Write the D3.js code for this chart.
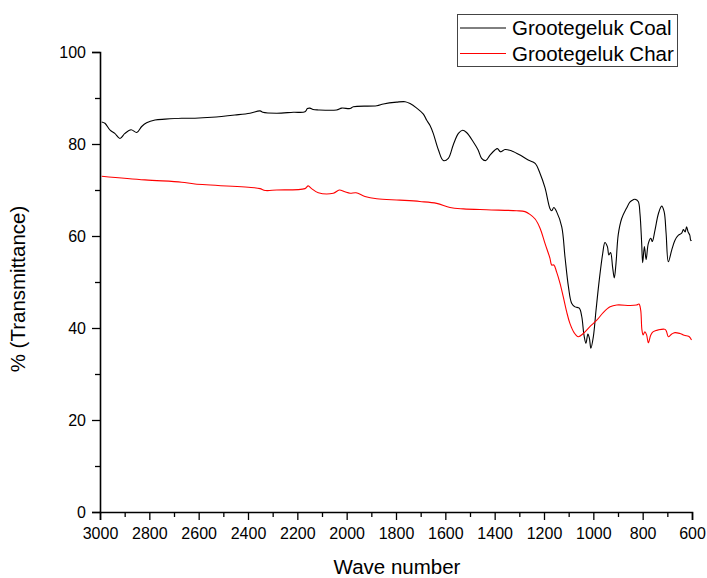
<!DOCTYPE html>
<html>
<head>
<meta charset="utf-8">
<script src="https://cdn.jsdelivr.net/npm/d3@7"></script>
<style>
  html, body { margin: 0; padding: 0; background: #fff; }
  svg { display: block; }
  text { font-family: "Liberation Sans", Arial, sans-serif; fill: #000; }
</style>
</head>
<body>
<svg id="chart" width="707" height="578"></svg>
<script>
// ---- Data ----
const coalWave = [2993, 2980, 2959, 2940, 2919, 2899, 2874, 2851, 2831, 2811, 2777, 2736, 2669, 2615, 2547, 2453, 2392, 2351, 2340, 2284, 2216, 2169, 2159, 2149, 2136, 2115, 2041, 2020, 1986, 1973, 1878, 1851, 1797, 1763, 1743, 1716, 1689, 1676, 1662, 1649, 1628, 1608, 1588, 1568, 1547, 1530, 1514, 1487, 1467, 1453, 1436, 1419, 1399, 1389, 1376, 1358, 1331, 1297, 1264, 1236, 1216, 1196, 1176, 1169, 1160, 1149, 1128, 1115, 1101, 1088, 1074, 1057, 1047, 1038, 1030, 1022, 1016, 1010, 1000, 989, 976, 962, 953, 943, 937, 930, 922, 915, 908, 899, 885, 865, 851, 838, 831, 818, 811, 804, 800, 793, 786, 777, 767, 761, 750, 736, 723, 713, 705, 696, 682, 669, 655, 642, 635, 628, 622, 616, 609, 605, 602];
const coalValue = [84.8, 84.5, 83.0, 82.3, 81.2, 82.3, 83.1, 82.5, 83.8, 84.6, 85.2, 85.4, 85.6, 85.6, 85.8, 86.3, 86.7, 87.2, 86.9, 86.7, 86.9, 87.0, 87.7, 87.8, 87.5, 87.4, 87.4, 87.8, 87.7, 88.1, 88.3, 88.7, 89.1, 89.2, 88.8, 87.8, 86.5, 85.2, 84.0, 82.3, 78.7, 76.4, 76.9, 79.8, 82.3, 83.0, 82.5, 80.5, 78.7, 76.9, 76.4, 77.6, 78.7, 79.0, 78.3, 78.8, 78.5, 77.6, 76.5, 75.8, 73.6, 70.5, 66.0, 65.5, 66.2, 65.3, 62.0, 55.5, 49.0, 45.4, 44.6, 44.3, 42.5, 38.5, 36.7, 38.7, 37.8, 35.6, 38.1, 43.9, 50.4, 56.2, 58.6, 57.7, 55.9, 56.4, 53.3, 50.9, 54.1, 60.3, 63.8, 66.1, 67.4, 67.9, 68.0, 67.5, 64.9, 58.4, 54.2, 57.7, 54.9, 58.4, 59.5, 58.8, 61.3, 64.9, 66.5, 65.3, 60.6, 54.4, 57.0, 59.1, 60.2, 60.6, 61.4, 60.9, 62.0, 60.9, 60.2, 59.0, 59.1];

const charWave = [2993, 2818, 2669, 2615, 2374, 2351, 2330, 2284, 2169, 2156, 2142, 2115, 2054, 2030, 2007, 1986, 1962, 1926, 1878, 1784, 1703, 1635, 1581, 1527, 1433, 1311, 1277, 1257, 1236, 1216, 1196, 1176, 1169, 1160, 1149, 1135, 1122, 1108, 1095, 1078, 1061, 1041, 1014, 986, 959, 932, 905, 851, 825, 815, 808, 803, 798, 791, 784, 777, 767, 757, 736, 709, 703, 696, 682, 669, 649, 635, 622, 611, 602];
const charValue = [73.0, 72.2, 71.7, 71.3, 70.5, 70.3, 69.9, 70.0, 70.3, 70.9, 70.3, 69.4, 69.3, 70.0, 69.6, 69.3, 69.4, 68.6, 68.1, 67.8, 67.5, 67.1, 66.2, 65.9, 65.7, 65.5, 65.3, 64.7, 63.7, 61.7, 58.4, 55.2, 53.7, 53.7, 52.2, 49.7, 46.8, 43.5, 41.0, 39.0, 38.1, 38.8, 40.3, 41.7, 43.4, 44.6, 45.0, 44.9, 45.0, 45.2, 43.9, 39.6, 38.5, 39.2, 38.5, 36.8, 38.5, 39.2, 39.6, 39.7, 39.2, 38.1, 38.7, 39.0, 38.8, 38.5, 38.3, 38.1, 37.4];

const seriesNames = ["Grootegeluk Coal", "Grootegeluk Char"];
const seriesColors = ["#000000", "#ff0000"];

const xMajorTicks = [3000, 2800, 2600, 2400, 2200, 2000, 1800, 1600, 1400, 1200, 1000, 800, 600];
const xMinorTicks = [2900, 2700, 2500, 2300, 2100, 1900, 1700, 1500, 1300, 1100, 900, 700];
const yMajorTicks = [0, 20, 40, 60, 80, 100];
const yMinorTicks = [10, 30, 50, 70, 90];

const xTitle = "Wave number";
const yTitle = "% (Transmittance)";

// ---- Layout ----
const W = 707, H = 578;
const margin = { left: 100, right: 15, top: 52, bottom: 66 };
const svg = d3.select("#chart");

const x = d3.scaleLinear().domain([3000, 600]).range([margin.left, W - margin.right]);
const y = d3.scaleLinear().domain([0, 100]).range([H - margin.bottom, margin.top]);

// Lines
const coal = coalWave.map((w, i) => [w, coalValue[i]]);
const char = charWave.map((w, i) => [w, charValue[i]]);
const line = d3.line().x(d => x(d[0])).y(d => y(d[1])).curve(d3.curveCatmullRom.alpha(0.5));

svg.append("path").datum(coal).attr("d", line)
  .attr("fill", "none").attr("stroke", seriesColors[0]).attr("stroke-width", 1.1);
svg.append("path").datum(char).attr("d", line)
  .attr("fill", "none").attr("stroke", seriesColors[1]).attr("stroke-width", 1.1);

// Axes
const xAxisMajor = d3.axisBottom(x).tickValues(xMajorTicks).tickSize(8).tickPadding(8).tickFormat(d3.format("d"));
const xAxisMinor = d3.axisBottom(x).tickValues(xMinorTicks).tickSize(5).tickFormat("");
const yAxisMajor = d3.axisLeft(y).tickValues(yMajorTicks).tickSize(8).tickPadding(6).tickFormat(d3.format("d"));
const yAxisMinor = d3.axisLeft(y).tickValues(yMinorTicks).tickSize(5).tickFormat("");

function styleAxis(g) {
  g.select(".domain").attr("stroke", "#000").attr("stroke-width", 1.6);
  g.selectAll(".tick line").attr("stroke", "#000").attr("stroke-width", 1.3);
  g.selectAll(".tick text").attr("font-size", 16).attr("font-family", "Liberation Sans, Arial, sans-serif");
}

const gx = svg.append("g").attr("transform", `translate(0,${H - margin.bottom})`).call(xAxisMajor);
styleAxis(gx);
const gxm = svg.append("g").attr("transform", `translate(0,${H - margin.bottom})`).call(xAxisMinor);
styleAxis(gxm);
gxm.select(".domain").remove();

const gy = svg.append("g").attr("transform", `translate(${margin.left},0)`).call(yAxisMajor);
styleAxis(gy);
const gym = svg.append("g").attr("transform", `translate(${margin.left},0)`).call(yAxisMinor);
styleAxis(gym);
gym.select(".domain").remove();

// Axis titles
svg.append("text").attr("x", 397).attr("y", 574)
  .attr("text-anchor", "middle").attr("font-size", 20.5).text(xTitle);
svg.append("text").attr("transform", `translate(25,${289}) rotate(-90)`)
  .attr("text-anchor", "middle").attr("font-size", 20.5).text(yTitle);

// Legend
const lg = svg.append("g");
lg.append("rect").attr("x", 457.5).attr("y", 14.5).attr("width", 220).attr("height", 52)
  .attr("fill", "#fff").attr("stroke", "#444").attr("stroke-width", 1);
seriesNames.forEach((name, i) => {
  const cy = 28 + i * 25.5;
  lg.append("line").attr("x1", 460).attr("x2", 506).attr("y1", cy).attr("y2", cy)
    .attr("stroke", seriesColors[i]).attr("stroke-width", 1);
  lg.append("text").attr("x", 512).attr("y", cy + 7).attr("font-size", 20.5).text(name);
});
</script>
</body>
</html>
